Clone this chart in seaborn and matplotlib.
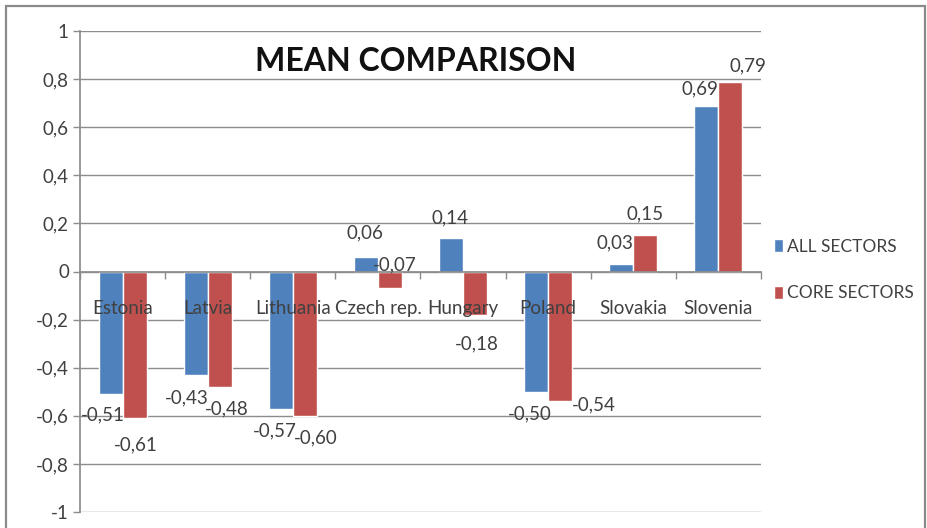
import matplotlib
matplotlib.use("Agg")
import matplotlib.pyplot as plt
from matplotlib.patches import Rectangle
import seaborn as sns
import pandas as pd
import numpy as np

countries = ["Estonia", "Latvia", "Lithuania", "Czech rep.", "Hungary",
             "Poland", "Slovakia", "Slovenia"]
all_sectors = [-0.51, -0.43, -0.57, 0.06, 0.14, -0.50, 0.03, 0.69]
core_sectors = [-0.61, -0.48, -0.60, -0.07, -0.18, -0.54, 0.15, 0.79]
series_names = ["ALL SECTORS", "CORE SECTORS"]
y_ticks = [-1, -0.8, -0.6, -0.4, -0.2, 0, 0.2, 0.4, 0.6, 0.8, 1]

# label placement per bar: horizontal shift and distance beyond the bar end (pixels)
label_dx = [[-8, -9, -6, -1, -1, -6, -6, -6],
            [1, 7, 11, 5, 2, 34, 0, 17]]
label_gap = [[21, 23, 22, 24, 20, 22, 21, 17],
             [27, 22, 22, -23, 29, 4, 22, 16]]

BLUE = "#4F81BD"
RED = "#C0504D"
TEXT = "#404040"
GRID = "#8C8C8C"
FS = 13.0

sns.set_theme(style="white")
plt.rcParams["font.family"] = ["Lato", "DejaVu Sans"]

df = pd.DataFrame({
    "country": countries * 2,
    "series": [series_names[0]] * len(countries) + [series_names[1]] * len(countries),
    "value": all_sectors + core_sectors,
})

fig = plt.figure(figsize=(9.28, 5.28), dpi=100)
ax = fig.add_axes([80 / 928, 1 - 512 / 528, (761 - 80) / 928, (512 - 31) / 528])

sns.barplot(data=df, x="country", y="value", hue="series", order=countries,
            hue_order=series_names, palette=[BLUE, RED], width=0.565, gap=0,
            saturation=1, errorbar=None, ax=ax, legend=True)

ax.set_ylim(-1, 1)
ax.set_xlim(-0.5, len(countries) - 0.5)
ax.set_yticks(y_ticks)
ax.set_yticklabels([f"{t:g}".replace(".", ",") for t in y_ticks],
                   fontsize=FS + 0.5, color=TEXT)
ax.yaxis.grid(True, color=GRID, lw=1.0)
ax.set_axisbelow(True)
ax.set_xlabel("")
ax.set_ylabel("")

for s in ("top", "right"):
    ax.spines[s].set_visible(False)
ax.spines["left"].set_color(GRID)
ax.spines["bottom"].set_color(GRID)
ax.spines["bottom"].set_position(("data", 0))
ax.tick_params(axis="y", length=5, width=1, color=GRID, pad=3,
               direction="out", left=True)

# boundary ticks on the zero line; category names are drawn over the bars
ax.set_xticks(range(len(countries)))
ax.set_xticklabels([])
ax.tick_params(axis="x", which="major", length=0)
ax.set_xticks(np.arange(-0.5, len(countries), 1), minor=True)
ax.tick_params(axis="x", which="minor", length=5, width=1, color=GRID,
               direction="out", bottom=True)
for i, name in enumerate(countries):
    ax.text(i, -0.155, name, ha="center", va="center", fontsize=FS + 0.5,
            color=TEXT, zorder=5)

# value labels near the outer end of each bar
for k, cont in enumerate(ax.containers):
    for i, bar in enumerate(cont):
        v = bar.get_height()
        x = bar.get_x() + bar.get_width() / 2
        sign = 1 if v >= 0 else -1
        ax.annotate(f"{v:.2f}".replace(".", ","), (x, v),
                    xytext=(label_dx[k][i], sign * label_gap[k][i]),
                    textcoords="offset pixels", ha="center", va="center",
                    fontsize=FS + 0.5, color=TEXT, zorder=6)

ax.text(0.493, 0.936, "MEAN COMPARISON", transform=ax.transAxes, ha="center",
        va="center", fontsize=23, fontweight="bold", color="#111111", zorder=6)

leg = ax.legend(loc="center left", bbox_to_anchor=(762 / 928, 1 - 270 / 528),
                bbox_transform=fig.transFigure, frameon=False, fontsize=FS - 0.5,
                handlelength=0.5, handleheight=0.8, handletextpad=0.25,
                labelspacing=1.75, borderpad=0.2)
for t in leg.get_texts():
    t.set_color(TEXT)

fig.patches.append(Rectangle((6 / 928, -0.01), (925 - 6) / 928, 1 - 6 / 528 + 0.01,
                             transform=fig.transFigure, fill=False,
                             edgecolor="#8A8A8A", lw=1.6))

fig.savefig("out.png", dpi=100, facecolor="white")
